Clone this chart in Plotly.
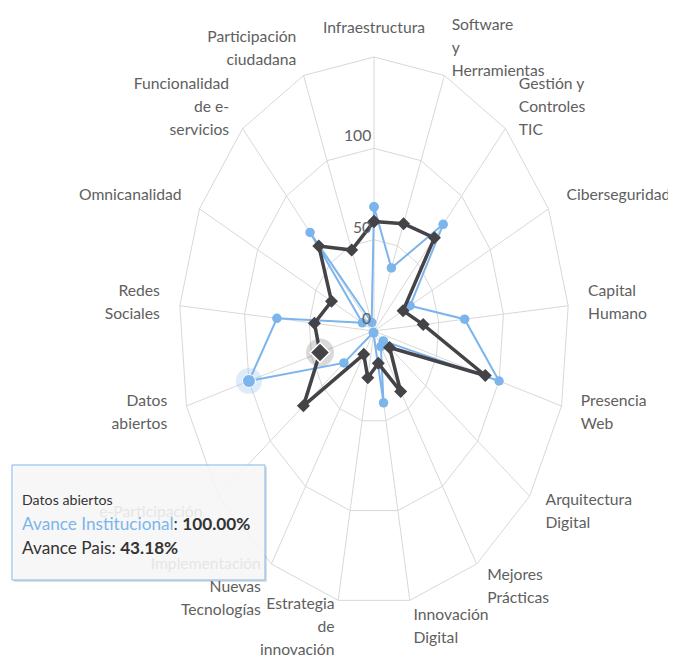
import numpy as np
import plotly.graph_objects as go

# ---------------- data ----------------
categories = [
    "Infraestructura", "Software y Herramientas", "Gestión y Controles TIC",
    "Ciberseguridad", "Capital Humano", "Presencia Web", "Arquitectura Digital",
    "Mejores Prácticas", "Innovación Digital", "Estrategia de innovación",
    "Implementación Nuevas Tecnologías", "e-Participación", "Datos abiertos",
    "Redes Sociales", "Omnicanalidad", "Funcionalidad de e-servicios",
    "Participación ciudadana",
]
category_labels = [
    "Infraestructura", "Software<br>y<br>Herramientas", "Gestión y<br>Controles<br>TIC",
    "Ciberseguridad", "Capital<br>Humano", "Presencia<br>Web", "Arquitectura<br>Digital",
    "Mejores<br>Prácticas", "Innovación<br>Digital", "Estrategia<br>de<br>innovación",
    "Implementación<br>Nuevas<br>Tecnologías", "e-Participación", "Datos<br>abiertos",
    "Redes<br>Sociales", "Omnicanalidad", "Funcionalidad<br>de e-<br>servicios",
    "Participación<br>ciudadana",
]
avance_institucional = [68, 37, 79, 31, 70, 100, 9, 10, 40, 1, 1, 29, 100, 75, 10, 73, 5]
avance_pais = [60, 63, 69, 25, 38, 89, 15, 39, 18, 26, 15, 68, 43.18, 46, 36.5, 63, 47.5]
ring_values = [50, 100, 150]
tick_values = [0, 50, 100]
R_MAX = 150
highlight = "Datos abiertos"

# ---------------- layout constants ----------------
PAGE_W, PAGE_H = 676, 662
OFF = 8                     # default body margin of the html page
W, H = PAGE_W - OFF, PAGE_H - OFF
CX, CY = 374 - OFF, 331 - OFF   # pixel centre inside the figure
RX, RY = 195, 274               # pixel radius of the outer ring (stretched view)
FONT = "Lato, Liberation Sans, sans-serif"
BLUE = "#7cb5ec"
DARK = "#434348"
GRID = "#d8d8d8"
LABEL_COLOR = "#606060"
LABEL_SIZE = 15.7
LINE_PX = 23                    # line spacing of wrapped labels

N = len(categories)
theta = np.deg2rad(np.arange(N) * 360.0 / N)
UX = R_MAX / RX   # data units per horizontal pixel
UY = R_MAX / RY   # data units per vertical pixel


def to_xy(r, th):
    r = np.asarray(r, dtype=float)
    return r * np.sin(th), r * np.cos(th)


def closed(a):
    a = list(a)
    return a + [a[0]]


fig = go.Figure()

# grid polygons and spokes
gx, gy = [], []
for rv in ring_values:
    x, y = to_xy(np.full(N + 1, rv), np.append(theta, theta[0]))
    gx += list(x) + [None]
    gy += list(y) + [None]
for th in theta:
    x, y = to_xy([0, R_MAX], np.array([th, th]))
    gx += list(x) + [None]
    gy += list(y) + [None]
fig.add_trace(go.Scatter(x=gx, y=gy, mode="lines", line=dict(color=GRID, width=1),
                         hoverinfo="skip", showlegend=False))

# category labels (one text item per wrapped line, to control the line spacing)
lab_r = R_MAX * 215.0 / 195.0
lx, ly = to_xy(np.full(N, lab_r), theta)
tx, ty, tt, tp = [], [], [], []
for i in range(N):
    deg = i * 360.0 / N
    if deg == 0:
        pos = "middle center"
    elif deg < 180:
        pos = "middle right"
    else:
        pos = "middle left"
    lines = category_labels[i].split("<br>")
    n = len(lines)
    for k, line in enumerate(lines):
        off_px = (k - (n - 1) / 2.0) * LINE_PX
        tx.append(lx[i])
        ty.append(ly[i] - off_px * UY)
        tt.append(line)
        tp.append(pos)
fig.add_trace(go.Scatter(x=tx, y=ty, mode="text", text=tt, textposition=tp,
                         textfont=dict(family=FONT, size=LABEL_SIZE, color=LABEL_COLOR),
                         hoverinfo="skip", showlegend=False))

hi = categories.index(highlight)

# series: Avance Institucional
bx, by = to_xy(closed(avance_institucional), np.append(theta, theta[0]))
fig.add_trace(go.Scatter(x=bx, y=by, mode="lines+markers", name="Avance Institucional",
                         line=dict(color=BLUE, width=2),
                         marker=dict(symbol="circle", size=9.5, color=BLUE),
                         showlegend=False))
hx, hy = to_xy([avance_institucional[hi]], theta[[hi]])
fig.add_trace(go.Scatter(x=hx, y=hy, mode="markers",
                         marker=dict(size=26, color="rgba(124,181,236,0.25)"),
                         hoverinfo="skip", showlegend=False))
fig.add_trace(go.Scatter(x=hx, y=hy, mode="markers",
                         marker=dict(size=13, color=BLUE, line=dict(color="white", width=1)),
                         hoverinfo="skip", showlegend=False))

# series: Avance Pais
dx, dy = to_xy(closed(avance_pais), np.append(theta, theta[0]))
fig.add_trace(go.Scatter(x=dx, y=dy, mode="lines+markers", name="Avance Pais",
                         line=dict(color=DARK, width=3.5),
                         marker=dict(symbol="diamond", size=10, color=DARK),
                         showlegend=False))
px_, py_ = to_xy([avance_pais[hi]], theta[[hi]])
fig.add_trace(go.Scatter(x=px_, y=py_, mode="markers",
                         marker=dict(symbol="circle", size=28, color="rgba(67,67,72,0.2)"),
                         hoverinfo="skip", showlegend=False))
fig.add_trace(go.Scatter(x=px_, y=py_, mode="markers",
                         marker=dict(symbol="diamond", size=15, color=DARK,
                                     line=dict(color="white", width=1.5)),
                         hoverinfo="skip", showlegend=False))


# ---------------- annotations / tooltip ----------------
def pxx(v):   # page pixel -> paper x
    return (v - OFF) / W


def pxy(v):   # page pixel -> paper y
    return 1 - (v - OFF) / H


annotations = []
for t in tick_values:
    annotations.append(dict(xref="x", yref="y", x=0, y=t, xanchor="right", yanchor="bottom",
                            xshift=-1, yshift=2, showarrow=False, text=str(t),
                            font=dict(family=FONT, size=LABEL_SIZE, color=LABEL_COLOR)))

tt_l, tt_r, tt_t, tt_b = 12, 265, 465, 580
shapes = [
    dict(type="rect", xref="paper", yref="paper", layer="above",
         x0=pxx(tt_l + 2), x1=pxx(tt_r + 2), y0=pxy(tt_b + 2), y1=pxy(tt_t + 2),
         line=dict(width=0), fillcolor="rgba(0,0,0,0.12)"),
    dict(type="rect", xref="paper", yref="paper", layer="above",
         x0=pxx(tt_l), x1=pxx(tt_r), y0=pxy(tt_b), y1=pxy(tt_t),
         line=dict(color=BLUE, width=1), fillcolor="rgba(249,249,249,0.88)"),
]
tt_font = dict(family=FONT, color="#333333")
annotations += [
    dict(xref="paper", yref="paper", x=pxx(20), y=pxy(499), xanchor="left", yanchor="middle",
         showarrow=False, text=highlight, font=dict(size=14.2, **tt_font)),
    dict(xref="paper", yref="paper", x=pxx(20), y=pxy(523), xanchor="left", yanchor="middle",
         showarrow=False,
         text=f"<span style='color:{BLUE}'>Avance Institucional</span>: "
              f"<b>{avance_institucional[hi]:.2f}%</b>",
         font=dict(size=17.2, **tt_font)),
    dict(xref="paper", yref="paper", x=pxx(20), y=pxy(547), xanchor="left", yanchor="middle",
         showarrow=False,
         text=f"Avance Pais: <b>{avance_pais[hi]:.2f}%</b>",
         font=dict(size=17.2, **tt_font)),
]

fig.update_layout(
    width=W, height=H,
    margin=dict(l=0, r=0, t=0, b=0),
    paper_bgcolor="white", plot_bgcolor="white",
    xaxis=dict(range=[-CX * UX, (W - CX) * UX], visible=False, fixedrange=True),
    yaxis=dict(range=[-(H - CY) * UY, CY * UY], visible=False, fixedrange=True),
    shapes=shapes, annotations=annotations,
    showlegend=False,
)

fig.write_html("out.html")
